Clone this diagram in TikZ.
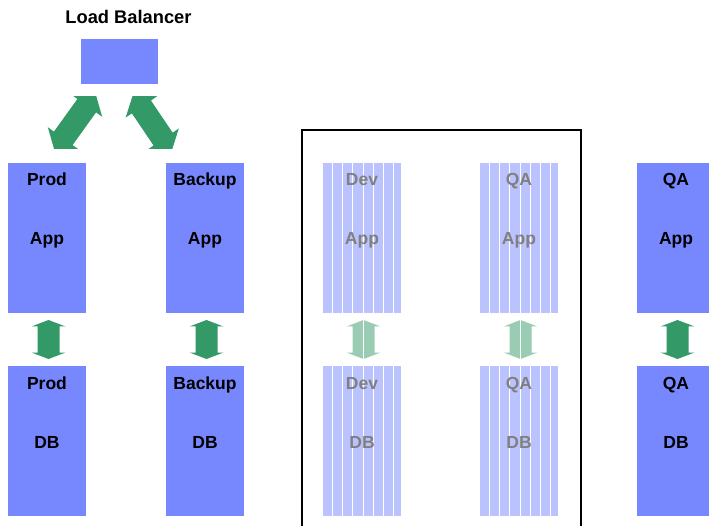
\documentclass[tikz,border=0pt]{standalone}
\usepackage{fontspec}
\setmainfont{Liberation Sans}
\usetikzlibrary{calc}
\definecolor{boxblue}{HTML}{7788FF}
\definecolor{fadeblue}{HTML}{BBC3FF}
\definecolor{arrgreen}{HTML}{339966}
\definecolor{fadegreen}{HTML}{99CCB3}
\definecolor{fadetext}{HTML}{808080}
\newcommand\blockarr[6]{\fill[#6] (#1) -- ($(#1)!#3!(#2)!#4!90:(#2)$) -- ($(#1)!#3!(#2)!#5!90:(#2)$) -- ($(#2)!#3!(#1)!#5!-90:(#1)$) -- ($(#2)!#3!(#1)!#4!-90:(#1)$) -- (#2) -- ($(#2)!#3!(#1)!#4!90:(#1)$) -- ($(#2)!#3!(#1)!#5!90:(#1)$) -- ($(#1)!#3!(#2)!#5!-90:(#2)$) -- ($(#1)!#3!(#2)!#4!-90:(#2)$) -- cycle;}
\tikzset{
  box/.style={fill=boxblue, draw=none, minimum width=78pt, minimum height=150pt, anchor=north west, inner sep=0pt, outer sep=0pt},
  fadebox/.style={box, fill=fadeblue},
  lbl/.style={font=\bfseries\fontsize{17.5}{20}\selectfont, anchor=base, inner sep=0pt},
  flbl/.style={lbl, text=fadetext},
  stripe/.style={white, line width=0.8pt},
}
\begin{document}
\begin{tikzpicture}[x=1pt, y=-1pt]
\useasboundingbox (0,0) rectangle (709,526);
\clip (0,0) rectangle (709,526);
% load balancer
\node[lbl, font=\bfseries\fontsize{18.3}{20}\selectfont] (lbt) at (128.5,24) {Load Balancer};
\node[box, minimum width=77pt, minimum height=45pt] (lb) at (81,39) {};
% app boxes
\node[box] (prodapp) at (8,163) {};
\node[box] (backupapp) at (166,163) {};
\node[fadebox] (devapp) at (323,163) {};
\node[fadebox] (qaapp1) at (480,163) {};
\node[box] (qaapp) at (637,163) {};
% db boxes
\node[box] (proddb) at (8,366) {};
\node[box] (backupdb) at (166,366) {};
\node[fadebox] (devdb) at (323,366) {};
\node[fadebox] (qadb1) at (480,366) {};
\node[box] (qadb) at (637,366) {};
% stripes on faded boxes
\foreach \b in {devapp,devdb,qaapp1,qadb1}
  \foreach \o in {9,19,29,40,50,60,70}
    \draw[stripe] ($(\b.north west)+(\o,0)$) -- ($(\b.south west)+(\o,0)$);
% labels
\node[lbl] (l1) at ($(prodapp.north)+(0,23)$) {Prod};
\node[lbl] (l2) at ($(prodapp.north)+(0,82)$) {App};
\node[lbl] (l3) at ($(backupapp.north)+(0,23)$) {Backup};
\node[lbl] (l4) at ($(backupapp.north)+(0,82)$) {App};
\node[flbl] (l5) at ($(devapp.north)+(0,23)$) {Dev};
\node[flbl] (l6) at ($(devapp.north)+(0,82)$) {App};
\node[flbl] (l7) at ($(qaapp1.north)+(0,23)$) {QA};
\node[flbl] (l8) at ($(qaapp1.north)+(0,82)$) {App};
\node[lbl] (l9) at ($(qaapp.north)+(0,23)$) {QA};
\node[lbl] (l10) at ($(qaapp.north)+(0,82)$) {App};
\node[lbl] (m1) at ($(proddb.north)+(0,23)$) {Prod};
\node[lbl] (m2) at ($(proddb.north)+(0,82)$) {DB};
\node[lbl] (m3) at ($(backupdb.north)+(0,23)$) {Backup};
\node[lbl] (m4) at ($(backupdb.north)+(0,82)$) {DB};
\node[flbl] (m5) at ($(devdb.north)+(0,23)$) {Dev};
\node[flbl] (m6) at ($(devdb.north)+(0,82)$) {DB};
\node[flbl] (m7) at ($(qadb1.north)+(0,23)$) {QA};
\node[flbl] (m8) at ($(qadb1.north)+(0,82)$) {DB};
\node[lbl] (m9) at ($(qadb.north)+(0,23)$) {QA};
\node[lbl] (m10) at ($(qadb.north)+(0,82)$) {DB};
% diagonal arrows
\coordinate (d1a) at (95.5,93.5);
\coordinate (d1b) at (54.5,150.5);
\coordinate (d2a) at (133,94.5);
\coordinate (d2b) at (171.5,151.5);
\begin{scope}
  \clip (0,96.5) rectangle (709,148.5);
  \blockarr{d1a}{d1b}{15pt}{19pt}{11.5pt}{arrgreen}
  \blockarr{d2a}{d2b}{15pt}{19pt}{11.5pt}{arrgreen}
\end{scope}
% vertical arrows
\foreach \a/\d/\c in {prodapp/proddb/arrgreen, backupapp/backupdb/arrgreen, devapp/devdb/fadegreen, qaapp1/qadb1/fadegreen, qaapp/qadb/arrgreen}{
  \coordinate (\a-t) at ($(\a.south)+(1.5,7)$);
  \coordinate (\a-b) at ($(\d.north)+(1.5,-7)$);
  \blockarr{\a-t}{\a-b}{6.5pt}{17pt}{11pt}{\c}
}
\draw[white, line width=1pt] (devapp-t) -- (devapp-b);
\draw[white, line width=1pt] (qaapp1-t) -- (qaapp1-b);
% frame
\draw[line width=2pt] (301.5,540) -- (301.5,130) -- (581,130) -- (581,540);
\end{tikzpicture}
\end{document}
